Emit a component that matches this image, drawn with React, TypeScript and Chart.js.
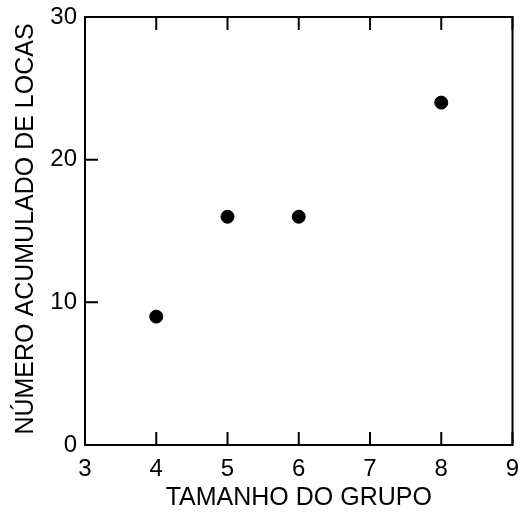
import React, { useEffect, useRef } from "react";
import { Chart, registerables } from "chart.js";

Chart.register(...registerables);

const groupSizes = [4, 5, 6, 8];
const cumulativeLocas = [9, 16, 16, 24];
const xTicks = [3, 4, 5, 6, 7, 8, 9];
const yTicks = [0, 10, 20, 30];
const xTitle = "TAMANHO DO GRUPO";
const yTitle = "NÚMERO ACUMULADO DE LOCAS";

const FONT = "'Liberation Sans', Arial, sans-serif";

const framePlugin = {
  id: "frame",
  afterDraw(chart: any) {
    const { ctx, chartArea, scales } = chart;
    const { left, right, top, bottom } = chartArea;
    ctx.save();
    ctx.strokeStyle = "#000";
    ctx.lineWidth = 2;
    ctx.strokeRect(left, top, right - left, bottom - top);
    const tl = 13;
    ctx.beginPath();
    for (const v of xTicks) {
      const x = scales.x.getPixelForValue(v);
      ctx.moveTo(x, bottom);
      ctx.lineTo(x, bottom - tl);
      ctx.moveTo(x, top);
      ctx.lineTo(x, top + tl);
    }
    for (const v of yTicks) {
      const y = scales.y.getPixelForValue(v);
      ctx.moveTo(left, y);
      ctx.lineTo(left + tl, y);
    }
    ctx.stroke();
    ctx.fillStyle = "#000";
    ctx.font = `25px ${FONT}`;
    ctx.textAlign = "center";
    ctx.textBaseline = "alphabetic";
    ctx.fillText(xTitle, (left + right) / 2, 505);
    ctx.translate(33, (top + bottom) / 2 - 2);
    ctx.rotate(-Math.PI / 2);
    ctx.fillText(yTitle, 0, 0);
    ctx.restore();
  },
};

export default function App() {
  const ref = useRef<HTMLCanvasElement>(null);
  useEffect(() => {
    document.body.style.margin = "0";
    const chart = new Chart(ref.current!, {
      type: "scatter",
      data: {
        datasets: [
          {
            data: groupSizes.map((x, i) => ({ x, y: cumulativeLocas[i] })),
            backgroundColor: "#000",
            borderColor: "#000",
            pointRadius: 6.5,
            pointHoverRadius: 6.5,
          },
        ],
      },
      options: {
        animation: false,
        responsive: false,
        events: [],
        layout: { padding: { top: 17, right: 6, left: 0, bottom: 0 } },
        plugins: { legend: { display: false }, tooltip: { enabled: false } },
        scales: {
          x: {
            type: "linear",
            min: 3,
            max: 9,
            afterFit: (s: any) => {
              s.height = 67;
              s.paddingLeft = 0;
              s.paddingRight = 0;
            },
            afterBuildTicks: (s: any) => {
              s.ticks = xTicks.map((v) => ({ value: v }));
            },
            ticks: { font: { size: 24, family: FONT }, color: "#000", padding: 10 },
            grid: { display: false, drawTicks: false },
            border: { display: false },
          },
          y: {
            type: "linear",
            min: 0,
            max: 30,
            afterFit: (s: any) => {
              s.width = 85;
              s.paddingTop = 0;
              s.paddingBottom = 0;
            },
            afterBuildTicks: (s: any) => {
              s.ticks = yTicks.map((v) => ({ value: v }));
            },
            ticks: { font: { size: 24, family: FONT }, color: "#000", padding: 8 },
            grid: { display: false, drawTicks: false },
            border: { display: false },
          },
        },
      },
      plugins: [framePlugin],
    });
    return () => chart.destroy();
  }, []);
  return <canvas ref={ref} width={520} height={512} style={{ display: "block" }} />;
}
